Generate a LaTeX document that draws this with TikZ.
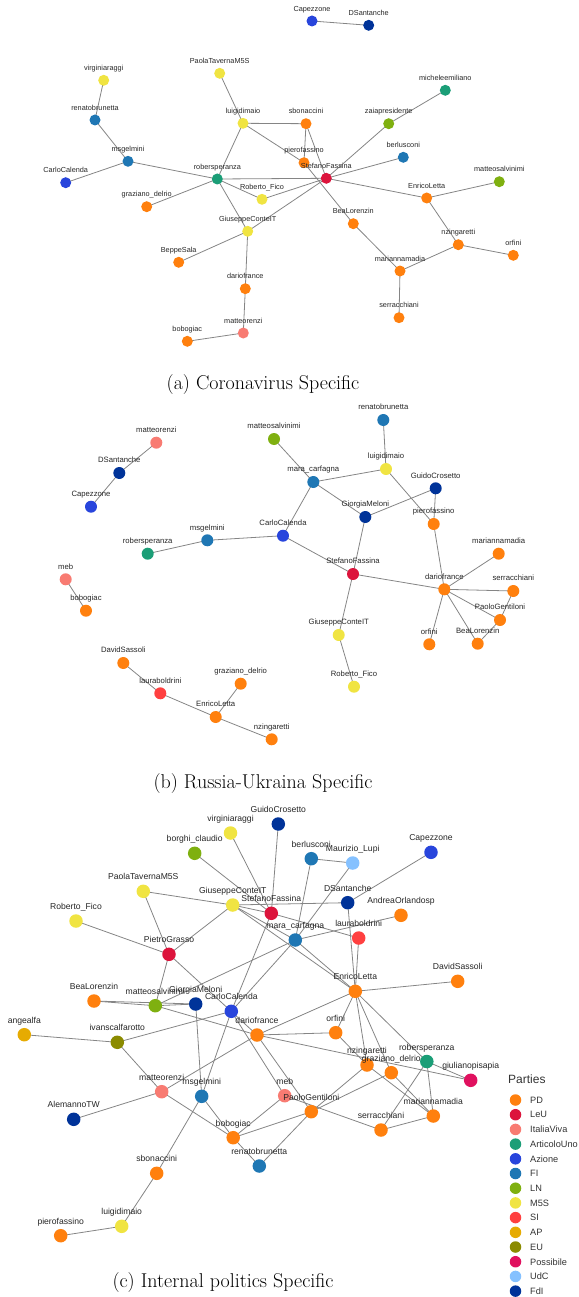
\documentclass[tikz,border=0pt]{standalone}
\usepackage{fontspec}
\newfontfamily\labfont{Liberation Sans}
\usetikzlibrary{backgrounds}
\definecolor{cPD}{HTML}{FF800E}
\definecolor{cLeU}{HTML}{DC143C}
\definecolor{cIV}{HTML}{F87B72}
\definecolor{cAU}{HTML}{1B9E77}
\definecolor{cAz}{HTML}{2845DC}
\definecolor{cFI}{HTML}{1F77B4}
\definecolor{cLN}{HTML}{7FB010}
\definecolor{cM}{HTML}{F0E442}
\definecolor{cSI}{HTML}{FF4040}
\definecolor{cAP}{HTML}{E6AB02}
\definecolor{cEU}{HTML}{8B8B00}
\definecolor{cPos}{HTML}{E0115F}
\definecolor{cUdC}{HTML}{85C1FF}
\definecolor{cFdI}{HTML}{003399}
\definecolor{edgegray}{HTML}{858585}
\tikzset{
  dot/.style={circle,inner sep=0pt,draw=none},
  lab/.style={anchor=base,inner sep=0pt,text=black!85},
  edge/.style={draw=edgegray,line width=0.8pt},
  caption/.style={anchor=base,inner sep=0pt,font=\fontsize{20}{24}\selectfont},
}
\newcommand\gn[7]{\node[dot,fill=#4,minimum size=#5] (#1) at (#2) {};
  \node[lab,font=#7] at ([yshift=#6]#1.center) {#3};}
\newcommand\na[4]{\gn{#1}{#2}{#3}{#4}{11pt}{9.8pt}{\labfont\fontsize{7.3}{8}\selectfont}}
\newcommand\nb[4]{\gn{#1}{#2}{#3}{#4}{12pt}{10.3pt}{\labfont\fontsize{7.7}{8}\selectfont}}
\newcommand\nc[4]{\gn{#1}{#2}{#3}{#4}{13.5pt}{11.4pt}{\labfont\fontsize{8.6}{9}\selectfont}}
\begin{document}
\begin{tikzpicture}[x=1pt,y=-1pt]
\useasboundingbox (0,0) rectangle (578,1297);
% ---------------- (a)
\na{aCap}{312,21}{Capezzone}{cAz}
\na{aDSa}{368.7,25.3}{DSantanche}{cFdI}
\na{aVir}{103.7,80.3}{virginiaraggi}{cM}
\na{aPao}{219.7,73.3}{PaolaTavernaM5S}{cM}
\na{aRen}{95,120}{renatobrunetta}{cFI}
\na{aLui}{243,123.3}{luigidimaio}{cM}
\na{aSbo}{306,123.7}{sbonaccini}{cPD}
\na{aMic}{445.3,90.3}{micheleemiliano}{cAU}
\na{aZai}{388.7,123.7}{zaiapresidente}{cLN}
\na{aBer}{403.3,157.3}{berlusconi}{cFI}
\na{aPie}{304,162.7}{pierofassino}{cPD}
\na{aSte}{326.3,178.3}{StefanoFassina}{cLeU}
\na{aSal}{499.3,181.7}{matteosalvinimi}{cLN}
\na{aMsg}{128,161.3}{msgelmini}{cFI}
\na{aCal}{65.7,182.7}{CarloCalenda}{cAz}
\na{aRob}{217.3,179}{robersperanza}{cAU}
\na{aGra}{146.7,206.7}{graziano\_delrio}{cPD}
\na{aFic}{262,199.3}{Roberto\_Fico}{cM}
\na{aLet}{426.7,198}{EnricoLetta}{cPD}
\na{aCon}{247.7,231.3}{GiuseppeConteIT}{cM}
\na{aBea}{353.3,223.7}{BeaLorenzin}{cPD}
\na{aBep}{178.7,262.3}{BeppeSala}{cPD}
\na{aZin}{458.3,244.7}{nzingaretti}{cPD}
\na{aOrf}{513.3,255.3}{orfini}{cPD}
\na{aMad}{400,271}{mariannamadia}{cPD}
\na{aDar}{245.3,288.7}{dariofrance}{cPD}
\na{aSer}{399,317.7}{serracchiani}{cPD}
\na{aRenzi}{243.3,333}{matteorenzi}{cIV}
\na{aBob}{187.3,341.3}{bobogiac}{cPD}
% ---------------- (b)
\nb{bRenzi}{156.3,442.7}{matteorenzi}{cIV}
\nb{bDSa}{119.3,473}{DSantanche}{cFdI}
\nb{bCap}{91,506.7}{Capezzone}{cAz}
\nb{bSal}{274,439}{matteosalvinimi}{cLN}
\nb{bMsg}{207.3,540.3}{msgelmini}{cFI}
\nb{bRob}{147.7,553.7}{robersperanza}{cAU}
\nb{bCal}{283,535.7}{CarloCalenda}{cAz}
\nb{bMeb}{65.7,579.3}{meb}{cIV}
\nb{bBob}{86,610.7}{bobogiac}{cPD}
\nb{bSas}{123.3,663}{DavidSassoli}{cPD}
\nb{bBol}{160.3,693.3}{lauraboldrini}{cSI}
\nb{bGra}{240.7,683.7}{graziano\_delrio}{cPD}
\nb{bLet}{215.7,717}{EnricoLetta}{cPD}
\nb{bZin}{271.7,739.3}{nzingaretti}{cPD}
\nb{bBru}{383.3,420}{renatobrunetta}{cFI}
\nb{bLui}{386,469}{luigidimaio}{cM}
\nb{bCar}{313.3,482}{mara\_carfagna}{cFI}
\nb{bCro}{435.7,488.3}{GuidoCrosetto}{cFdI}
\nb{bMel}{365.3,517}{GiorgiaMeloni}{cFdI}
\nb{bPie}{433.7,524}{pierofassino}{cPD}
\nb{bMad}{498.7,553.7}{mariannamadia}{cPD}
\nb{bSte}{353,574}{StefanoFassina}{cLeU}
\nb{bDar}{444.3,589.3}{dariofrance}{cPD}
\nb{bSer}{513.3,591}{serracchiani}{cPD}
\nb{bGen}{500,620}{PaoloGentiloni}{cPD}
\nb{bCon}{338.7,635}{GiuseppeConteIT}{cM}
\nb{bOrf}{429.3,644.3}{orfini}{cPD}
\nb{bBea}{477.7,643.7}{BeaLorenzin}{cPD}
\nb{bFic}{354,686.7}{Roberto\_Fico}{cM}
% ---------------- (c)
\nc{cCro}{278.3,824}{GuidoCrosetto}{cFdI}
\nc{cVir}{230.5,833}{virginiaraggi}{cM}
\nc{cBor}{194.7,853.3}{borghi\_claudio}{cLN}
\nc{cBer}{311.3,858.7}{berlusconi}{cFI}
\nc{cLup}{352.7,863}{Maurizio\_Lupi}{cUdC}
\nc{cCap}{431,852.3}{Capezzone}{cAz}
\nc{cPao}{143.3,891.3}{PaolaTavernaM5S}{cM}
\nc{cCon}{232.7,905}{GiuseppeConteIT}{cM}
\nc{cSte}{271.3,913.3}{StefanoFassina}{cLeU}
\nc{cDSa}{347.7,902.7}{DSantanche}{cFdI}
\nc{cOrl}{401,915.3}{AndreaOrlandosp}{cPD}
\nc{cFic}{76,921}{Roberto\_Fico}{cM}
\nc{cCar}{295.3,940}{mara\_carfagna}{cFI}
\nc{cBol}{358.7,938}{lauraboldrini}{cSI}
\nc{cGra}{169,954.3}{PietroGrasso}{cLeU}
\nc{cSas}{457.7,981.3}{DavidSassoli}{cPD}
\nc{cLet}{355.3,991.3}{EnricoLetta}{cPD}
\nc{cBea}{94,1001}{BeaLorenzin}{cPD}
\nc{cSal}{155.3,1005.7}{matteosalvinimi}{cLN}
\nc{cMel}{195.7,1004}{GiorgiaMeloni}{cFdI}
\nc{cCal}{231.3,1011.3}{CarloCalenda}{cAz}
\nc{cAng}{24.3,1034.7}{angealfa}{cAP}
\nc{cIva}{117.3,1042.3}{ivanscalfarotto}{cEU}
\nc{cDar}{257,1035}{dariofrance}{cPD}
\nc{cOrf}{335.7,1032.7}{orfini}{cPD}
\nc{cZin}{367,1065}{nzingaretti}{cPD}
\nc{cDel}{391.3,1072.7}{graziano\_delrio}{cPD}
\nc{cRob}{426.8,1061.5}{robersperanza}{cAU}
\nc{cPis}{470.7,1080.3}{giulianopisapia}{cPos}
\nc{cRenzi}{161.7,1091.7}{matteorenzi}{cIV}
\nc{cMsg}{201.7,1096.3}{msgelmini}{cFI}
\nc{cMeb}{284.7,1095.7}{meb}{cIV}
\nc{cGen}{311.3,1111.7}{PaoloGentiloni}{cPD}
\nc{cMad}{433.3,1116}{mariannamadia}{cPD}
\nc{cSer}{381,1130}{serracchiani}{cPD}
\nc{cAle}{73.7,1119.3}{AlemannoTW}{cFdI}
\nc{cBob}{233.2,1137.7}{bobogiac}{cPD}
\nc{cBru}{259.3,1166}{renatobrunetta}{cFI}
\nc{cSbo}{156.7,1173.3}{sbonaccini}{cPD}
\nc{cLui}{121.7,1226.3}{luigidimaio}{cM}
\nc{cPie}{60.7,1235.7}{pierofassino}{cPD}
% ---------------- edges
\begin{pgfonlayer}{background}
\foreach \p/\q in {aCap/aDSa,aVir/aRen,aRen/aMsg,aMsg/aCal,aMsg/aRob,aPao/aLui,
  aLui/aRob,aLui/aSbo,aLui/aPie,aSbo/aPie,aSbo/aSte,aPie/aBea,aRob/aSte,aRob/aFic,
  aRob/aGra,aRob/aCon,aFic/aSte,aCon/aSte,aSte/aZai,aZai/aMic,aSte/aBer,aSte/aLet,
  aLet/aSal,aLet/aZin,aZin/aOrf,aZin/aMad,aBea/aMad,aMad/aSer,aCon/aBep,aCon/aDar,
  aDar/aRenzi,aRenzi/aBob}
  \draw[edge] (\p.center) -- (\q.center);
\foreach \p/\q in {bRenzi/bDSa,bDSa/bCap,bMeb/bBob,bRob/bMsg,bMsg/bCal,bCal/bCar,
  bCal/bSte,bSal/bCar,bCar/bLui,bCar/bMel,bBru/bLui,bLui/bPie,bCro/bMel,bCro/bPie,
  bMel/bSte,bSte/bDar,bSte/bCon,bCon/bFic,bPie/bDar,bDar/bMad,bDar/bSer,bDar/bGen,
  bDar/bBea,bDar/bOrf,bSer/bGen,bGen/bBea,bSas/bBol,bBol/bLet,bGra/bLet,bLet/bZin}
  \draw[edge] (\p.center) -- (\q.center);
\foreach \p/\q in {cPao/cGra,cPao/cCon,cFic/cGra,cCon/cGra,cGra/cSal,cGra/cDar,
  cVir/cSte,cBor/cSte,cCro/cSte,cBer/cLup,cBer/cCar,cLup/cCar,cCap/cDSa,
  cCon/cSte,cCon/cDSa,cCon/cCar,cCon/cLet,cSte/cBol,cCar/cOrl,cCar/cLet,cSte/cCal,
  cDSa/cLet,cBol/cLet,cLet/cSas,cLet/cDar,cLet/cOrf,cLet/cZin,cLet/cDel,cLet/cRob,
  cBea/cSal,cBea/cMel,cSal/cMel,cSal/cCar,cSal/cDar,
  cCal/cCar,cCal/cIva,cIva/cAng,cIva/cRenzi,cCal/cMsg,cMel/cMsg,cCal/cMeb,
  cDar/cGen,cDar/cOrf,cDar/cRenzi,cDar/cPis,
  cRenzi/cAle,cRenzi/cBob,cMsg/cBob,cMsg/cSbo,cSbo/cLui,cLui/cPie,
  cMeb/cBob,cBob/cGen,cBob/cBru,cBru/cGen,cGen/cZin,cGen/cDel,cMeb/cSer,
  cOrf/cZin,cZin/cMad,cDel/cMad,cRob/cPis,cRob/cMad,cRob/cSer,cSer/cMad}
  \draw[edge] (\p.center) -- (\q.center);
\end{pgfonlayer}
% ---------------- legend
\node[anchor=base west,inner sep=0pt,text=black!80,font=\labfont\fontsize{12}{14}\selectfont] (legtitle) at (508,1083.5) {Parties};
\foreach \c/\t [count=\k from 0] in {cPD/PD,cLeU/LeU,cIV/ItaliaViva,cAU/ArticoloUno,cAz/Azione,
  cFI/FI,cLN/LN,cM/M5S,cSI/SI,cAP/AP,cEU/EU,cPos/Possibile,cUdC/UdC,cFdI/FdI}{
  \node[dot,fill=\c,minimum size=11.5pt] (leg\k) at (515.5,1100+14.7*\k) {};
  \node[anchor=west,inner sep=0pt,text=black!80,font=\labfont\fontsize{9.2}{11}\selectfont] at (530,1100+14.7*\k) {\t};
}
% ---------------- captions
\node[caption] (capa) at (263,389) {(a) Coronavirus Specific};
\node[caption] (capb) at (263,788) {(b) Russia-Ukraina Specific};
\node[caption] (capc) at (223,1287) {(c) Internal politics Specific};
\end{tikzpicture}
\end{document}
